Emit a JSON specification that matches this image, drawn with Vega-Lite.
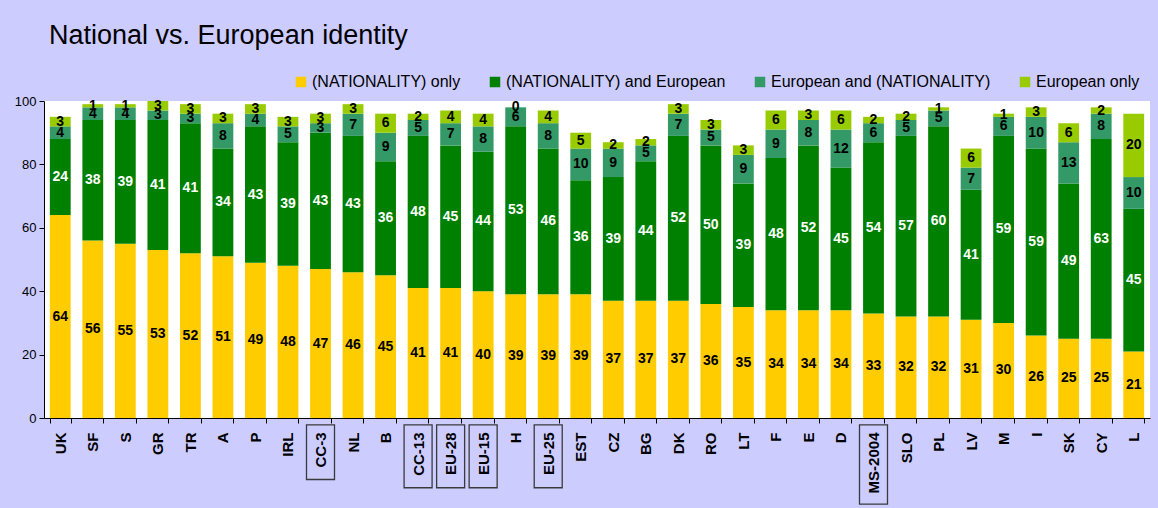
{
  "$schema": "https://vega.github.io/schema/vega-lite/v6.json",
  "width": 1106,
  "height": 317,
  "autosize": {"type": "none"},
  "padding": {"left": 44, "top": 101, "right": 8, "bottom": 90},
  "background": "#CCCCFF",
  "config": {
    "view": {"fill": "white", "stroke": null},
    "font": "Liberation Sans"
  },
  "title": {
    "text": "National vs. European identity",
    "anchor": "start",
    "frame": "group",
    "fontSize": 27,
    "fontWeight": "normal",
    "font": "Liberation Sans",
    "color": "black",
    "baseline": "alphabetic",
    "offset": 3,
    "dx": 5
  },
  "data": {
    "values": [
      {"country": "UK", "agg": false, "k1": 64, "k2": 24, "k3": 4, "k4": 3},
      {"country": "SF", "agg": false, "k1": 56, "k2": 38, "k3": 4, "k4": 1},
      {"country": "S", "agg": false, "k1": 55, "k2": 39, "k3": 4, "k4": 1},
      {"country": "GR", "agg": false, "k1": 53, "k2": 41, "k3": 3, "k4": 3},
      {"country": "TR", "agg": false, "k1": 52, "k2": 41, "k3": 3, "k4": 3},
      {"country": "A", "agg": false, "k1": 51, "k2": 34, "k3": 8, "k4": 3},
      {"country": "P", "agg": false, "k1": 49, "k2": 43, "k3": 4, "k4": 3},
      {"country": "IRL", "agg": false, "k1": 48, "k2": 39, "k3": 5, "k4": 3},
      {"country": "CC-3", "agg": true, "k1": 47, "k2": 43, "k3": 3, "k4": 3},
      {"country": "NL", "agg": false, "k1": 46, "k2": 43, "k3": 7, "k4": 3},
      {"country": "B", "agg": false, "k1": 45, "k2": 36, "k3": 9, "k4": 6},
      {"country": "CC-13", "agg": true, "k1": 41, "k2": 48, "k3": 5, "k4": 2},
      {"country": "EU-28", "agg": true, "k1": 41, "k2": 45, "k3": 7, "k4": 4},
      {"country": "EU-15", "agg": true, "k1": 40, "k2": 44, "k3": 8, "k4": 4},
      {"country": "H", "agg": false, "k1": 39, "k2": 53, "k3": 6, "k4": 0},
      {"country": "EU-25", "agg": true, "k1": 39, "k2": 46, "k3": 8, "k4": 4},
      {"country": "EST", "agg": false, "k1": 39, "k2": 36, "k3": 10, "k4": 5},
      {"country": "CZ", "agg": false, "k1": 37, "k2": 39, "k3": 9, "k4": 2},
      {"country": "BG", "agg": false, "k1": 37, "k2": 44, "k3": 5, "k4": 2},
      {"country": "DK", "agg": false, "k1": 37, "k2": 52, "k3": 7, "k4": 3},
      {"country": "RO", "agg": false, "k1": 36, "k2": 50, "k3": 5, "k4": 3},
      {"country": "LT", "agg": false, "k1": 35, "k2": 39, "k3": 9, "k4": 3},
      {"country": "F", "agg": false, "k1": 34, "k2": 48, "k3": 9, "k4": 6},
      {"country": "E", "agg": false, "k1": 34, "k2": 52, "k3": 8, "k4": 3},
      {"country": "D", "agg": false, "k1": 34, "k2": 45, "k3": 12, "k4": 6},
      {"country": "MS-2004", "agg": true, "k1": 33, "k2": 54, "k3": 6, "k4": 2},
      {"country": "SLO", "agg": false, "k1": 32, "k2": 57, "k3": 5, "k4": 2},
      {"country": "PL", "agg": false, "k1": 32, "k2": 60, "k3": 5, "k4": 1},
      {"country": "LV", "agg": false, "k1": 31, "k2": 41, "k3": 7, "k4": 6},
      {"country": "M", "agg": false, "k1": 30, "k2": 59, "k3": 6, "k4": 1},
      {"country": "I", "agg": false, "k1": 26, "k2": 59, "k3": 10, "k4": 3},
      {"country": "SK", "agg": false, "k1": 25, "k2": 49, "k3": 13, "k4": 6},
      {"country": "CY", "agg": false, "k1": 25, "k2": 63, "k3": 8, "k4": 2},
      {"country": "L", "agg": false, "k1": 21, "k2": 45, "k3": 10, "k4": 20}
    ]
  },
  "transform": [
    {"fold": ["k1", "k2", "k3", "k4"], "as": ["identity", "value"]}
  ],
  "encoding": {
    "x": {
      "field": "country",
      "type": "nominal",
      "sort": null,
      "title": null,
      "scale": {"paddingInner": 0.36, "paddingOuter": 0.18},
      "axis": {
        "labelAngle": -90,
        "labelFontWeight": "bold",
        "labelFontSize": 15,
        "labelColor": "black",
        "labelPadding": 9,
        "tickSize": 5,
        "tickColor": "black",
        "tickBand": "extent",
        "domainColor": "black",
        "grid": false
      }
    }
  },
  "layer": [
    {
      "mark": {"type": "bar"},
      "encoding": {
        "y": {
          "field": "value",
          "type": "quantitative",
          "stack": "zero",
          "title": null,
          "scale": {"domain": [0, 100], "nice": false},
          "axis": {
            "values": [0, 10, 20, 30, 40, 50, 60, 70, 80, 90, 100],
            "labelFontSize": 13,
            "labelColor": "black",
            "labelPadding": 3,
            "tickSize": 5,
            "tickColor": "black",
            "domainColor": "black",
            "grid": false
          }
        },
        "order": {"field": "identity", "sort": "ascending"},
        "color": {
          "field": "identity",
          "type": "nominal",
          "scale": {
            "domain": ["k1", "k2", "k3", "k4"],
            "range": ["#FFCC00", "#008000", "#339966", "#99CC00"]
          },
          "legend": {
            "title": null,
            "orient": "none",
            "direction": "horizontal",
            "columns": 4,
            "legendX": 249,
            "legendY": -27,
            "symbolType": "square",
            "symbolSize": 110,
            "symbolStrokeWidth": 0,
            "symbolOpacity": 1,
            "labelFontSize": 16,
            "labelColor": "black",
            "labelLimit": 400,
            "labelOffset": 3,
            "columnPadding": 26,
            "labelExpr": "datum.label === 'k1' ? '(NATIONALITY) only' : datum.label === 'k2' ? '(NATIONALITY) and European' : datum.label === 'k3' ? 'European and (NATIONALITY)' : 'European only'"
          }
        }
      }
    },
    {
      "mark": {"type": "text", "fontWeight": "bold", "fontSize": 14, "font": "Liberation Sans"},
      "encoding": {
        "y": {"field": "value", "type": "quantitative", "stack": "zero", "bandPosition": 0.5},
        "detail": {"field": "identity", "type": "nominal"},
        "order": {"field": "identity", "sort": "ascending"},
        "text": {"field": "value", "type": "quantitative"},
        "color": {
          "condition": {"test": "datum.identity === 'k2'", "value": "white"},
          "value": "black"
        }
      }
    },
    {
      "transform": [
        {"filter": "datum.agg && datum.identity === 'k1'"},
        {"calculate": "-(9 + 2.6 * length(datum.country))", "as": "yb"}
      ],
      "mark": {"type": "bar", "width": 28, "fillOpacity": 0, "stroke": "#3a3a3a", "strokeWidth": 1.3},
      "encoding": {
        "y": {"field": "yb", "type": "quantitative"},
        "y2": {"datum": -2.2}
      }
    }
  ]
}
